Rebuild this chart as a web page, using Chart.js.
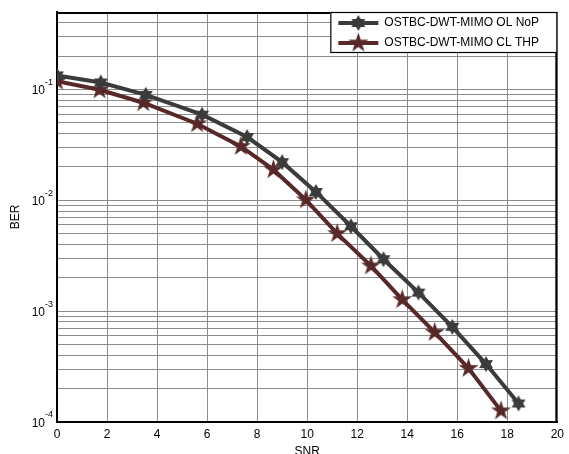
<!DOCTYPE html>
<html>
<head>
<meta charset="utf-8">
<script src="https://cdn.jsdelivr.net/npm/chart.js@4.4.1/dist/chart.umd.min.js"></script>
<style>
body { margin: 0; background: #fff; }
</style>
</head>
<body>
<canvas id="graficoBER" width="569" height="454"></canvas>
<script>
// valores (BER vs SNR)
var snrNoP = [0, 1.75, 3.55, 5.8, 7.6, 9.0, 10.35, 11.75, 13.05, 14.45, 15.8, 17.15, 18.45];
var berNoP = [0.134, 0.1156, 0.0895, 0.0592, 0.0372, 0.0221, 0.0119, 0.00584, 0.00294, 0.00147, 0.000722, 0.000333, 0.000147];
var snrTHP = [0, 1.7, 3.45, 5.6, 7.35, 8.65, 9.95, 11.2, 12.55, 13.8, 15.1, 16.45, 17.75];
var berTHP = [0.119, 0.0993, 0.0759, 0.0491, 0.0306, 0.0189, 0.0101, 0.00501, 0.00256, 0.00127, 0.000643, 0.000305, 0.000126];
var etiquetas = ['OSTBC-DWT-MIMO OL NoP', 'OSTBC-DWT-MIMO CL THP'];
var xTicks = [0, 2, 4, 6, 8, 10, 12, 14, 16, 18, 20];
var yExponentes = [-4, -3, -2, -1];
var yMin = 1e-4;
var yMax = 0.5;

var colorNoP = '#3b3b3b';
var colorTHP = '#582828';
var fuente = '"Liberation Sans", Arial, sans-serif';

// lineas de rejilla del eje log: 1..9 x 10^n
var yRejilla = [];
yExponentes.forEach(function(e) {
    for (var k = 1; k <= 9; k++) {
        var v = k * Math.pow(10, e);
        if (v <= yMax) yRejilla.push(v);
    }
});

function puntos(xs, ys) {
    return xs.map(function(x, i) { return {x: x, y: ys[i]}; });
}

function estrella(puntas, rExt, rInt, color) {
    var c = document.createElement('canvas');
    var t = Math.ceil(rExt * 2 + 2);
    c.width = t;
    c.height = t;
    var ctx = c.getContext('2d');
    ctx.translate(t / 2, t / 2);
    ctx.beginPath();
    for (var i = 0; i < puntas * 2; i++) {
        var r = i % 2 === 0 ? rExt : rInt;
        var a = -Math.PI / 2 + i * Math.PI / puntas;
        ctx.lineTo(r * Math.cos(a), r * Math.sin(a));
    }
    ctx.closePath();
    ctx.fillStyle = color;
    ctx.fill();
    return c;
}

var marcaNoP = estrella(6, 8, 8 / Math.sqrt(3), colorNoP);
var marcaTHP = estrella(5, 10.5, 10.5 * 0.382, colorTHP);

// marco, etiquetas 10^n y leyenda
var extras = {
    id: 'extras',
    afterDraw: function(chart) {
        var ctx = chart.ctx;
        var area = chart.chartArea;
        var y = chart.scales.y;
        ctx.save();

        ctx.strokeStyle = '#000';
        ctx.lineWidth = 2;
        ctx.beginPath();
        ctx.moveTo(area.left, area.top + 1);
        ctx.lineTo(area.right - 1, area.top + 1);
        ctx.lineTo(area.right - 1, area.bottom);
        ctx.stroke();

        ctx.fillStyle = '#000';
        ctx.textAlign = 'left';
        ctx.textBaseline = 'middle';
        yExponentes.forEach(function(e) {
            var py = y.getPixelForValue(Math.pow(10, e));
            var sup = String(e);
            ctx.font = '9px ' + fuente;
            var ws = ctx.measureText(sup).width;
            ctx.font = '12px ' + fuente;
            var w10 = ctx.measureText('10').width;
            var x0 = 53 - ws - w10;
            ctx.fillText('10', x0, py + 1.5);
            ctx.font = '9px ' + fuente;
            ctx.fillText(sup, x0 + w10, py - 7);
        });

        // leyenda
        var ancho = 227, alto = 41;
        var lx = area.right - ancho, ly = area.top;
        ctx.fillStyle = '#fff';
        ctx.fillRect(lx, ly, ancho, alto);
        ctx.strokeStyle = '#000';
        ctx.lineWidth = 1.2;
        ctx.strokeRect(lx + 0.5, ly + 0.5, ancho - 1, alto - 1);
        var entradas = [[colorNoP, marcaNoP], [colorTHP, marcaTHP]];
        entradas.forEach(function(en, i) {
            var yy = ly + 11 + i * 20;
            ctx.strokeStyle = en[0];
            ctx.lineWidth = 4;
            ctx.beginPath();
            ctx.moveTo(lx + 8, yy);
            ctx.lineTo(lx + 48, yy);
            ctx.stroke();
            ctx.drawImage(en[1], lx + 28 - en[1].width / 2, yy - en[1].height / 2);
            ctx.fillStyle = '#000';
            ctx.font = '12px ' + fuente;
            ctx.textBaseline = 'middle';
            ctx.fillText(etiquetas[i], lx + 54, yy);
        });
        ctx.restore();
    }
};

const ctx = document.getElementById('graficoBER').getContext('2d');
const graficoBER = new Chart(ctx, {
    type: 'line',
    data: {
        datasets: [{
            label: etiquetas[0],
            data: puntos(snrNoP, berNoP),
            borderColor: colorNoP,
            backgroundColor: colorNoP,
            borderWidth: 4,
            pointStyle: marcaNoP,
            fill: false
        }, {
            label: etiquetas[1],
            data: puntos(snrTHP, berTHP),
            borderColor: colorTHP,
            backgroundColor: colorTHP,
            borderWidth: 4,
            pointStyle: marcaTHP,
            fill: false
        }]
    },
    options: {
        responsive: false,
        animation: false,
        layout: { padding: { top: 12, right: 9, left: 0, bottom: 0 } },
        plugins: {
            legend: { display: false },
            tooltip: { enabled: false }
        },
        scales: {
            x: {
                type: 'linear',
                min: 0,
                max: 20,
                afterBuildTicks: function(scale) {
                    scale.ticks = xTicks.map(function(v) { return {value: v}; });
                },
                afterFit: function(scale) { scale.height = 32; },
                grid: { color: '#8c8c8c', drawTicks: false },
                border: { color: '#000', width: 2 },
                ticks: {
                    color: '#000',
                    padding: 5,
                    maxRotation: 0,
                    font: { family: fuente, size: 12 }
                },
                title: {
                    display: true,
                    text: 'SNR',
                    color: '#000',
                    padding: { top: 0, bottom: -5 },
                    font: { family: fuente, size: 12 }
                }
            },
            y: {
                type: 'logarithmic',
                min: yMin,
                max: yMax,
                afterBuildTicks: function(scale) {
                    scale.ticks = yRejilla.map(function(v) { return {value: v}; });
                },
                afterFit: function(scale) { scale.width = 57; },
                grid: { color: '#8c8c8c', drawTicks: false },
                border: { color: '#000', width: 2 },
                ticks: { display: false },
                title: {
                    display: true,
                    text: 'BER',
                    color: '#000',
                    padding: { top: 8, bottom: 0 },
                    font: { family: fuente, size: 12 }
                }
            }
        }
    },
    plugins: [extras]
});
</script>
</body>
</html>
